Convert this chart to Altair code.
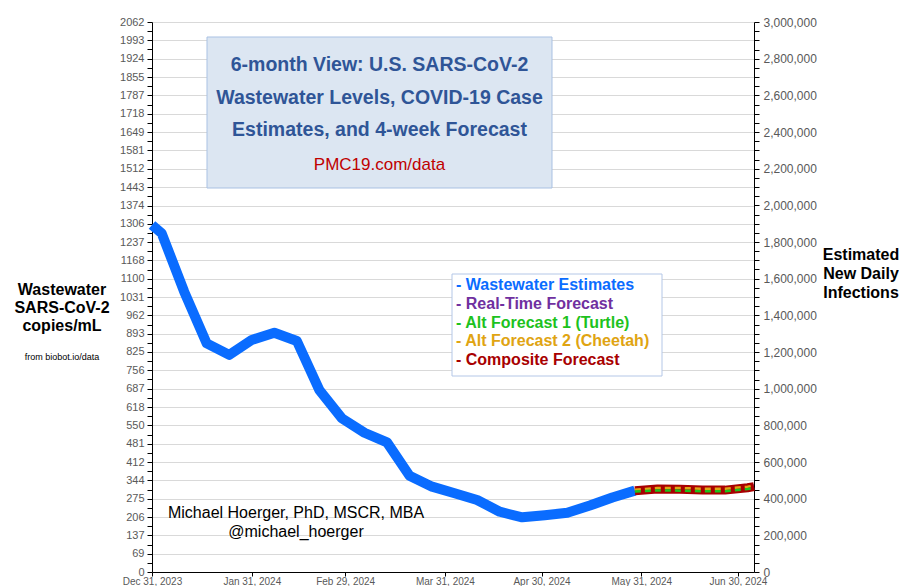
import altair as alt
import pandas as pd

# ---------------- data ----------------
WW_DATES = ["2023-12-31", "2024-01-03", "2024-01-10", "2024-01-17", "2024-01-24",
            "2024-01-31", "2024-02-07", "2024-02-14", "2024-02-21", "2024-02-28",
            "2024-03-06", "2024-03-13", "2024-03-20", "2024-03-27", "2024-04-03",
            "2024-04-10", "2024-04-17", "2024-04-24", "2024-05-01", "2024-05-08",
            "2024-05-15", "2024-05-22", "2024-05-29"]
WW_VALUES = [1301, 1270, 1051, 857, 814, 870, 897, 866, 682, 576, 522, 486,
             361, 320, 295, 270, 226, 205, 213, 222, 249, 279, 305]

FC_DATES = ["2024-05-29", "2024-06-05", "2024-06-12", "2024-06-19",
            "2024-06-26", "2024-07-03", "2024-07-05"]
FC_REALTIME = [305, 310, 310, 307, 307, 315, 319]
FC_TURTLE = [302, 306, 305, 303, 303, 311, 315]
FC_CHEETAH = [308, 315, 315, 312, 312, 320, 324]
FC_COMPOSITE = [305, 311, 310, 307, 307, 316, 320]

LEFT_TICKS = [0, 69, 137, 206, 275, 344, 412, 481, 550, 618, 687, 756, 825, 893,
              962, 1031, 1100, 1168, 1237, 1306, 1374, 1443, 1512, 1581, 1649,
              1718, 1787, 1855, 1924, 1993, 2062]
LEFT_MAX = 2062
RIGHT_MAX = 3000000
RIGHT_MAJOR_STEP = 200000
RIGHT_MINOR_STEP = 50000

X_TICK_DATES = ["2023-12-31", "2024-01-31", "2024-02-29", "2024-03-31",
                "2024-04-30", "2024-05-31", "2024-06-30"]
X_DOMAIN = ["2023-12-31", "2024-07-05"]

TITLE_LINES = ["6-month View: U.S. SARS-CoV-2",
               "Wastewater Levels, COVID-19 Case",
               "Estimates, and 4-week Forecast"]
TITLE_URL = "PMC19.com/data"
LEFT_TITLE = ["Wastewater", "SARS-CoV-2", "copies/mL"]
LEFT_SOURCE = "from biobot.io/data"
RIGHT_TITLE = ["Estimated", "New Daily", "Infections"]
AUTHOR_LINES = ["Michael Hoerger, PhD, MSCR, MBA", "@michael_hoerger"]
LEGEND_LABELS = ["- Wastewater Estimates", "- Real-Time Forecast",
                 "- Alt Forecast 1 (Turtle)", "- Alt Forecast 2 (Cheetah)",
                 "- Composite Forecast"]
LEGEND_COLORS = ["#0A6CFF", "#7030A0", "#1DC21D", "#E0A412", "#A80000"]

FONT = "Liberation Sans"


def dt(s):
    y, m, d = (int(v) for v in s.split("-"))
    return alt.DateTime(year=y, month=m, date=d)


def local(s):
    return s + "T00:00:00"


ww_df = pd.DataFrame({"date": [local(d) for d in WW_DATES], "value": WW_VALUES})


def fc_df(vals):
    return pd.DataFrame({"date": [local(d) for d in FC_DATES], "value": vals})


left_minor = [round(LEFT_MAX * (k + 0.5) / 30, 2) for k in range(30)]
left_values = LEFT_TICKS + left_minor
right_values = list(range(0, RIGHT_MAX + 1, RIGHT_MINOR_STEP))

x_enc = alt.X(
    "date:T",
    scale=alt.Scale(domain=[dt(X_DOMAIN[0]), dt(X_DOMAIN[1])]),
    axis=alt.Axis(values=[dt(d) for d in X_TICK_DATES], format="%b %d, %Y",
                  title=None, grid=False, tickSize=4, labelPadding=0,
                  labelOverlap=False, labelFlush=False,
                  domainColor="#000000", tickColor="#000000",
                  labelColor="#595959", labelFont=FONT, labelFontSize=10),
)

left_axis = alt.Axis(
    values=left_values, title=None, orient="left",
    labelExpr="datum.value == floor(datum.value) ? format(datum.value, 'd') : ''",
    gridOpacity={"condition": {"test": "datum.value == floor(datum.value)", "value": 1},
                 "value": 0},
    grid=True, gridColor="#D9D9D9", gridWidth=1, labelOverlap=False,
    domainColor="#000000", tickColor="#000000", tickSize=5, labelPadding=3,
    labelColor="#595959", labelFont=FONT, labelFontSize=11,
)
y_enc = alt.Y("value:Q", scale=alt.Scale(domain=[0, LEFT_MAX], nice=False, zero=True),
              axis=left_axis)


def series(df, color, width, dash=None):
    kw = dict(color=color, strokeWidth=width, strokeJoin="round", strokeCap="butt")
    if dash:
        kw["strokeDash"] = dash
    return alt.Chart(df).mark_line(**kw).encode(x=x_enc, y=y_enc)


def text(s, x, y, size, color="#000000", weight="normal", align="center", font=FONT):
    return alt.Chart(pd.DataFrame({"t": [s]})).mark_text(
        font=font, fontSize=size, fontWeight=weight, color=color, align=align,
        baseline="middle"
    ).encode(x=alt.value(x), y=alt.value(y), text="t:N")


def box(x1, x2, y1, y2, fill, stroke):
    return alt.Chart(pd.DataFrame({"a": [0]})).mark_rect(
        fill=fill, stroke=stroke, strokeWidth=1
    ).encode(x=alt.value(x1), x2=alt.value(x2), y=alt.value(y1), y2=alt.value(y2))


layers = [
    series(ww_df, LEGEND_COLORS[0], 10),
    series(fc_df(FC_REALTIME), LEGEND_COLORS[1], 6),
    series(fc_df(FC_COMPOSITE), LEGEND_COLORS[4], 9),
    series(fc_df(FC_CHEETAH), LEGEND_COLORS[3], 2.5, [6, 4]),
    series(fc_df(FC_TURTLE), LEGEND_COLORS[2], 2.5, [6, 4]),
]

# title box
layers.append(box(55, 400, 15, 166, "#DCE6F2", "#A9C1E3"))
for i, line in enumerate(TITLE_LINES):
    layers.append(text(line, 227.5, 43 + i * 32.5, 19.5, "#2F5597", "bold"))
layers.append(text(TITLE_URL, 227.5, 143, 17, "#C00000"))

# legend box
layers.append(box(300, 510, 252, 354, "#FFFFFF", "#B4C7E7"))
for i, (lab, col) in enumerate(zip(LEGEND_LABELS, LEGEND_COLORS)):
    layers.append(text(lab, 304, 263 + i * 18.8, 16, col, "bold", "left"))

# axis titles
for i, line in enumerate(LEFT_TITLE):
    layers.append(text(line, -90, 268 + i * 18, 16, "#000000", "bold"))
layers.append(text(LEFT_SOURCE, -90, 335, 9))
for i, line in enumerate(RIGHT_TITLE):
    layers.append(text(line, 709, 233 + i * 19, 16, "#000000", "bold"))

# author
for i, line in enumerate(AUTHOR_LINES):
    layers.append(text(line, 144, 491 + i * 19, 16))

main = alt.layer(*layers)

right_df = pd.DataFrame({"date": [local(X_DOMAIN[0]), local(X_DOMAIN[1])],
                         "inf": [0, RIGHT_MAX]})
right_label_expr = ("datum.value % " + str(RIGHT_MAJOR_STEP)
                    + " == 0 ? format(datum.value, ',') : ''")
right = alt.Chart(right_df).mark_point(opacity=0).encode(
    x=x_enc,
    y=alt.Y("inf:Q", scale=alt.Scale(domain=[0, RIGHT_MAX], nice=False),
            axis=alt.Axis(values=right_values, orient="right", title=None,
                          labelExpr=right_label_expr, labelOverlap=False,
                          grid=False, domainColor="#000000", tickColor="#000000",
                          tickSize=5, labelPadding=4, labelColor="#595959",
                          labelFont=FONT, labelFontSize=12)),
)

chart = alt.layer(main, right).resolve_scale(y="independent").properties(
    width=602, height=550,
    background="#FFFFFF",
    autosize=alt.AutoSizeParams(type="none"),
    padding={"left": 144, "top": 14, "right": 145, "bottom": 30},
).configure_view(strokeWidth=0)

chart.save("out.html", embed_options={"renderer": "svg", "actions": False})
